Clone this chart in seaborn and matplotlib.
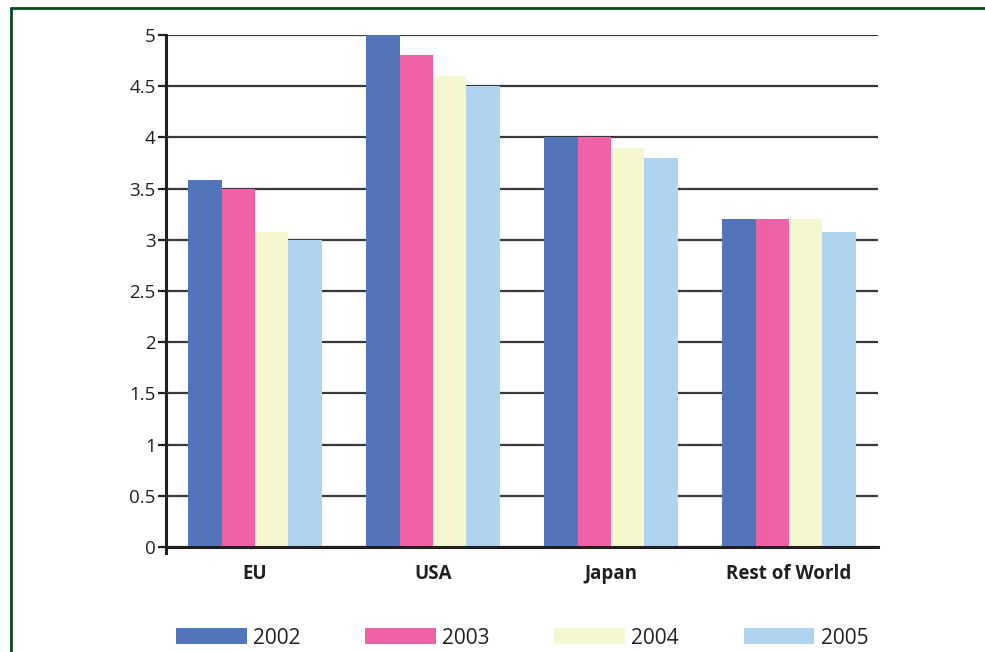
import matplotlib
matplotlib.use("Agg")
import matplotlib.pyplot as plt
import seaborn as sns
import pandas as pd
from matplotlib.lines import Line2D
from matplotlib.patches import Patch

regions = ["EU", "USA", "Japan", "Rest of World"]
years = ["2002", "2003", "2004", "2005"]
v2002 = [3.58, 5.0, 4.0, 3.2]
v2003 = [3.5, 4.8, 4.0, 3.2]
v2004 = [3.08, 4.6, 3.9, 3.2]
v2005 = [3.0, 4.5, 3.8, 3.08]
yticks = [0, 0.5, 1, 1.5, 2, 2.5, 3, 3.5, 4, 4.5, 5]
ytick_labels = ["0", "0.5", "1", "1.5", "2", "2.5", "3", "3.5", "4", "4.5", "5"]
colors = ["#5274bb", "#f062a6", "#f5f7d0", "#aed4f0"]

rows = []
for yr, vals in zip(years, [v2002, v2003, v2004, v2005]):
    for r, v in zip(regions, vals):
        rows.append({"region": r, "year": yr, "value": v})
df = pd.DataFrame(rows)

sns.set_style("white")
plt.rcParams["font.family"] = ["Open Sans", "DejaVu Sans"]
txt = "#231f20"

ymin = -0.06
top_px, zero_px = 35, 547
ppu = (zero_px - top_px) / 5.0
bottom_px = zero_px - ymin * ppu

fig = plt.figure(figsize=(9.85, 6.52), dpi=100)
ax = fig.add_axes([166/985, 1-bottom_px/652, (878-166)/985, (bottom_px-top_px)/652])

sns.barplot(data=df, x="region", y="value", hue="year", order=regions,
            hue_order=years, palette=colors, saturation=1, width=0.75,
            linewidth=0, ax=ax, legend=False, zorder=3)

ax.set_xlim(-0.5, 3.5)
ax.set_ylim(ymin, 5)
ax.set_yticks(yticks)
ax.set_yticklabels(ytick_labels)
ax.grid(axis="y", color="#3a3a3a", linewidth=1.6, zorder=0)
ax.set_axisbelow(True)
ax.set_xlabel("")
ax.set_ylabel("")

for s in ["top", "right"]:
    ax.spines[s].set_visible(False)
ax.spines["bottom"].set_position(("data", 0))
ax.spines["bottom"].set_linewidth(2.2)
ax.spines["bottom"].set_color("#231f20")
ax.spines["bottom"].set_zorder(5)
ax.spines["left"].set_linewidth(2.2)
ax.spines["left"].set_color("#231f20")

ax.tick_params(axis="y", direction="out", length=6, width=1.6, color="#231f20",
               labelsize=13.5, labelcolor=txt, pad=1.5, left=True)
ax.tick_params(axis="x", length=0, pad=12, labelcolor=txt)
for lab in ax.get_xticklabels():
    lab.set_fontweight("bold")
    lab.set_fontsize(13.5)

handles = [Patch(facecolor=c, edgecolor="none", label=y) for c, y in zip(colors, years)]
fig.legend(handles=handles, loc="center", bbox_to_anchor=(0.530, 1-638/652),
           ncol=4, frameon=False, fontsize=15, handlelength=3.4, handleheight=0.8,
           handletextpad=0.3, columnspacing=3.1, labelcolor=txt)

green = "#0b4a1a"
fig.add_artist(Line2D([11/985, 1], [1-8/652, 1-8/652], transform=fig.transFigure,
                      color=green, linewidth=2))
fig.add_artist(Line2D([11/985, 11/985], [0, 1-8/652], transform=fig.transFigure,
                      color=green, linewidth=2))

fig.savefig("out.png", dpi=100)
